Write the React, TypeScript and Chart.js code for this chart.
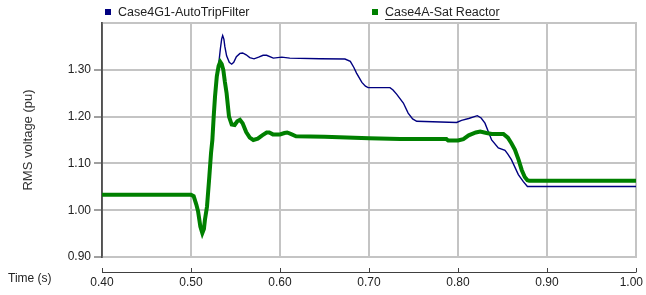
import React, { useEffect, useRef } from "react";
import { Chart, registerables } from "chart.js";

Chart.register(...registerables);

const seriesNames = ["Case4G1-AutoTripFilter", "Case4A-Sat Reactor"];
const seriesColors = ["#000080", "#008000"];

const greenTimes = [
  0.4, 0.5, 0.503, 0.506, 0.508, 0.5105, 0.5127, 0.5145, 0.5157, 0.518, 0.5206, 0.5225, 0.524, 0.5255,
  0.527, 0.529, 0.531, 0.5328, 0.5345, 0.5363, 0.538, 0.54, 0.5427, 0.5457, 0.549, 0.552, 0.555,
  0.558, 0.562, 0.566, 0.57, 0.575, 0.58, 0.585, 0.588, 0.592, 0.6, 0.605, 0.608, 0.612, 0.618,
  0.65, 0.7, 0.735, 0.787, 0.789, 0.8, 0.806, 0.812, 0.82, 0.825, 0.832, 0.838, 0.851, 0.856, 0.86,
  0.864, 0.868, 0.8716, 0.875, 0.878, 0.88, 1.0,
];
const greenValues = [
  1.033, 1.033, 1.03, 1.012, 0.997, 0.965, 0.951, 0.96, 0.98, 1.008, 1.072, 1.122, 1.15, 1.2,
  1.243, 1.286, 1.308, 1.317, 1.312, 1.3, 1.275, 1.25, 1.2, 1.183, 1.182, 1.19, 1.193,
  1.186, 1.167, 1.155, 1.15, 1.153, 1.16, 1.166, 1.166, 1.162, 1.162, 1.165, 1.166, 1.163, 1.158,
  1.157, 1.154, 1.152, 1.152, 1.149, 1.149, 1.152, 1.16, 1.166, 1.168, 1.165, 1.163, 1.163, 1.155, 1.143,
  1.129, 1.108, 1.086, 1.071, 1.064, 1.063, 1.063,
];

const blueTimes = [
  0.4, 0.5, 0.503, 0.506, 0.508, 0.5105, 0.5127, 0.5145, 0.5157, 0.518, 0.5206, 0.5225, 0.524, 0.5255,
  0.527, 0.529, 0.531, 0.533, 0.5345, 0.5356, 0.537, 0.538, 0.54, 0.543, 0.5457, 0.548, 0.551, 0.555,
  0.558, 0.562, 0.566, 0.5708, 0.576, 0.581, 0.585, 0.5925, 0.602, 0.611, 0.645, 0.673, 0.679, 0.683,
  0.686, 0.692, 0.696, 0.699, 0.7236, 0.727, 0.731, 0.7386, 0.744, 0.749, 0.7536, 0.7985, 0.804, 0.812,
  0.8217, 0.826, 0.8303, 0.834, 0.8378, 0.8453, 0.8528, 0.856, 0.86, 0.8678, 0.8734, 0.878, 1.0,
];
const blueValues = [
  1.033, 1.033, 1.03, 1.012, 0.997, 0.965, 0.951, 0.96, 0.98, 1.008, 1.072, 1.122, 1.15, 1.2,
  1.243, 1.286, 1.31, 1.345, 1.366, 1.373, 1.365, 1.35, 1.33, 1.316, 1.312, 1.316, 1.328, 1.335,
  1.336, 1.332, 1.326, 1.3235, 1.327, 1.331, 1.331, 1.325, 1.327, 1.325, 1.3235, 1.323, 1.318, 1.305,
  1.293, 1.273, 1.265, 1.262, 1.262, 1.257, 1.248, 1.229, 1.2075, 1.195, 1.19, 1.1875, 1.192, 1.196,
  1.202, 1.197, 1.186, 1.168, 1.15, 1.133, 1.128, 1.12, 1.108, 1.076, 1.061, 1.0506, 1.0506,
];

const xMin = 0.4;
const xMax = 1.0;
const yMin = 0.9;
const yMax = 1.4;
const tickStep = 0.1;
const xAxisTitle = "Time (s)";
const yAxisTitle = "RMS voltage (pu)";

const FONT = "'Liberation Sans', Arial, sans-serif";
const GRID = "#c4c4c4";

const toPoints = (xs: number[], ys: number[]) => xs.map((x, i) => ({ x, y: ys[i] }));

const decorPlugin = {
  id: "decor",
  beforeDatasetsDraw(chart: any) {
    const ctx = chart.ctx;
    const a = chart.chartArea;
    ctx.save();
    ctx.strokeStyle = GRID;
    ctx.lineWidth = 2;
    ctx.beginPath();
    ctx.moveTo(a.left, a.top);
    ctx.lineTo(a.right, a.top);
    ctx.lineTo(a.right, a.bottom);
    ctx.lineTo(a.left, a.bottom);
    ctx.stroke();
    ctx.strokeStyle = "#505050";
    ctx.lineWidth = 1.5;
    ctx.beginPath();
    ctx.moveTo(a.left, a.top - 1);
    ctx.lineTo(a.left, a.bottom + 1);
    ctx.stroke();
    ctx.restore();
  },
  afterDraw(chart: any) {
    const ctx = chart.ctx;
    const xs = chart.scales.x;
    const area = chart.chartArea;
    const W = chart.width;
    ctx.save();
    // bottom time axis line with upward ticks
    const axisY = area.bottom + 15;
    ctx.strokeStyle = "#404040";
    ctx.lineWidth = 1;
    ctx.beginPath();
    ctx.moveTo(xs.getPixelForValue(xMin), axisY + 0.5);
    ctx.lineTo(xs.getPixelForValue(xMax), axisY + 0.5);
    for (const t of xs.ticks) {
      const px = Math.round(xs.getPixelForValue(t.value)) + 0.5;
      ctx.moveTo(px, axisY + 0.5);
      ctx.lineTo(px, axisY - 4);
    }
    ctx.stroke();
    // tick labels from the scale's ticks (kept inside the canvas)
    ctx.fillStyle = "#222";
    ctx.font = `12px ${FONT}`;
    ctx.textAlign = "center";
    ctx.textBaseline = "middle";
    for (const t of xs.ticks) {
      const label = Number(t.value).toFixed(2);
      const w = ctx.measureText(label).width;
      let px = xs.getPixelForValue(t.value);
      if (px + w / 2 > W - 3) px = W - 3 - w / 2;
      ctx.fillText(label, px, area.bottom + 26);
    }
    // x axis title at left
    ctx.textAlign = "left";
    ctx.fillText(xAxisTitle, 8, area.bottom + 22);
    // legend
    const items = [
      { x: 105, label: chart.data.datasets[0].label, color: chart.data.datasets[0].borderColor, underline: false },
      { x: 372, label: chart.data.datasets[1].label, color: chart.data.datasets[1].borderColor, underline: true },
    ];
    ctx.font = `12.5px ${FONT}`;
    for (const it of items) {
      ctx.fillStyle = it.color;
      ctx.fillRect(it.x, 9, 6, 6);
      ctx.fillStyle = "#222";
      ctx.fillText(it.label, it.x + 13, 12.5);
      if (it.underline) {
        const w = ctx.measureText(it.label).width;
        ctx.strokeStyle = "#333";
        ctx.lineWidth = 1;
        ctx.beginPath();
        ctx.moveTo(it.x + 13, 19.5);
        ctx.lineTo(it.x + 13 + w, 19.5);
        ctx.stroke();
      }
    }
    ctx.restore();
  },
};

export default function App() {
  const ref = useRef<HTMLCanvasElement | null>(null);
  useEffect(() => {
    if (!ref.current) return;
    const chart = new Chart(ref.current, {
      type: "line",
      data: {
        datasets: [
          {
            label: seriesNames[0],
            data: toPoints(blueTimes, blueValues),
            borderColor: seriesColors[0],
            backgroundColor: seriesColors[0],
            borderWidth: 1.4,
            pointRadius: 0,
            tension: 0,
            order: 1,
          },
          {
            label: seriesNames[1],
            data: toPoints(greenTimes, greenValues),
            borderColor: seriesColors[1],
            backgroundColor: seriesColors[1],
            borderWidth: 4,
            pointRadius: 0,
            tension: 0,
            order: 0,
          },
        ],
      },
      options: {
        animation: false,
        responsive: false,
        maintainAspectRatio: false,
        layout: { padding: { top: 23, right: 10, left: 0, bottom: 0 } },
        plugins: { legend: { display: false }, tooltip: { enabled: false } },
        scales: {
          x: {
            type: "linear",
            min: xMin,
            max: xMax,
            afterFit: (s: any) => {
              s.height = 38;
              s.paddingLeft = 0;
              s.paddingRight = 0;
            },
            border: { display: false },
            grid: { color: GRID, lineWidth: 2, drawTicks: false },
            ticks: {
              stepSize: tickStep,
              display: false,
            },
          },
          y: {
            type: "linear",
            min: yMin,
            max: yMax,
            afterFit: (s: any) => {
              s.width = 102;
              s.paddingTop = 0;
              s.paddingBottom = 0;
            },
            border: { display: true, color: "#505050", width: 1.5 },
            grid: {
              color: GRID,
              lineWidth: 2,
              tickLength: 8,
              tickColor: (c: any) => (Math.abs(c.tick.value - yMax) < 1e-6 ? "rgba(0,0,0,0)" : "#404040"),
              tickWidth: 1,
            },
            ticks: {
              stepSize: tickStep,
              padding: 3,
              color: "#222",
              font: { family: FONT, size: 12 },
              callback: (v: any) => (Math.abs(Number(v) - yMax) < 1e-6 ? "" : Number(v).toFixed(2)),
            },
            title: {
              display: true,
              text: yAxisTitle,
              color: "#333",
              font: { family: FONT, size: 13 },
              padding: { top: 21, bottom: 0 },
            },
          },
        },
      },
      plugins: [decorPlugin],
    });
    return () => chart.destroy();
  }, []);
  return (
    <div style={{ position: "fixed", left: 0, top: 0, width: 646, height: 295, background: "#fff" }}>
      <canvas ref={ref} width={646} height={295} style={{ width: 646, height: 295, display: "block" }} />
    </div>
  );
}
